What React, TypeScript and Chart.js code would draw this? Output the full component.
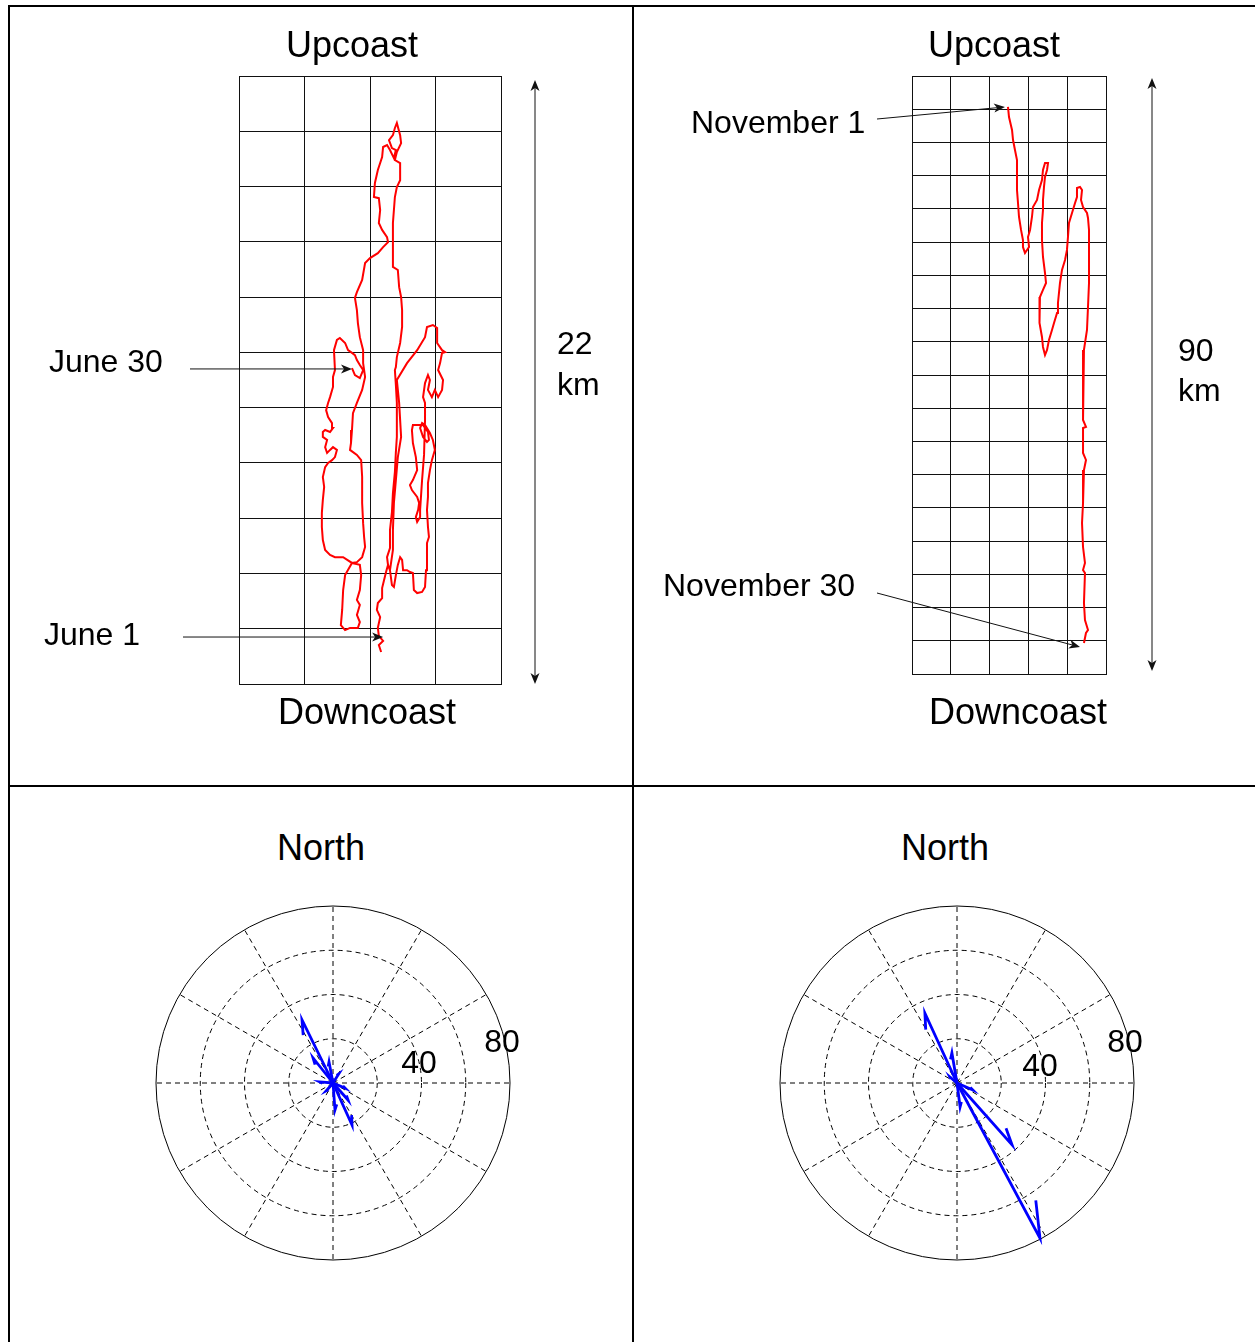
import React, { useEffect, useRef } from "react";
import { Chart, registerables } from "chart.js";

Chart.register(...registerables);

const FONT = 'Arial, "Liberation Sans", Helvetica, sans-serif';

type Pt = [number, number];

// ---------------- DATA ----------------
// June: progressive vector track, [km east, km north]
const juneTrack: Pt[] = [
  [4.34, 1.16], [4.27, 1.41], [4.40, 1.56], [4.27, 1.74], [4.24, 2.03], [4.31, 2.42], [4.21, 2.68], [4.24, 2.93],
  [4.37, 3.11], [4.37, 3.47], [4.43, 3.76], [4.49, 4.05], [4.55, 4.31],
  [4.61, 4.12], [4.67, 3.58], [4.73, 3.51], [4.79, 3.94], [4.85, 4.31], [4.92, 4.59], [4.98, 4.49], [5.01, 4.12],
  [5.13, 4.12], [5.22, 4.05], [5.31, 4.02], [5.34, 3.40], [5.44, 3.29], [5.59, 3.33], [5.68, 3.51], [5.71, 4.12],
  [5.74, 5.10], [5.80, 5.32], [5.77, 5.68], [5.74, 6.30], [5.77, 6.77], [5.77, 7.27], [5.83, 7.74], [5.89, 8.10],
  [5.98, 8.47], [5.92, 8.83], [5.83, 9.08], [5.68, 9.37], [5.59, 9.44], [5.53, 9.26], [5.62, 8.94], [5.74, 8.76],
  [5.80, 8.83], [5.77, 9.12], [5.62, 9.37], [5.31, 9.37], [5.28, 9.19], [5.31, 8.72], [5.40, 8.21], [5.44, 7.74],
  [5.31, 7.38], [5.22, 7.20], [5.28, 7.02], [5.44, 6.77], [5.50, 6.55], [5.47, 6.30], [5.40, 6.04], [5.44, 5.86],
  [5.53, 6.04], [5.53, 6.30], [5.59, 7.38], [5.65, 8.29], [5.68, 9.55], [5.68, 10.17], [5.62, 10.38], [5.68, 10.89],
  [5.77, 11.18], [5.83, 11.00], [5.77, 10.64], [5.89, 10.38], [5.98, 10.64], [6.08, 10.38], [6.20, 10.64], [6.23, 11.00],
  [6.08, 11.36], [6.14, 11.61], [6.20, 11.98], [6.29, 12.01], [6.20, 12.08], [6.05, 12.34], [6.05, 12.88], [5.92, 12.99],
  [5.74, 12.92], [5.68, 12.55], [5.44, 12.08], [5.13, 11.61], [4.82, 11.00],
  [4.89, 10.17], [4.95, 8.94], [4.85, 8.21], [4.79, 7.38], [4.73, 6.55], [4.70, 5.57], [4.70, 4.85], [4.61, 4.12],
  [4.55, 4.31], [4.52, 4.59], [4.61, 4.92], [4.61, 5.57], [4.67, 6.22], [4.70, 6.91], [4.76, 7.67], [4.79, 8.39],
  [4.82, 8.94], [4.82, 9.55], [4.82, 10.17], [4.79, 10.82], [4.76, 11.36],
  [4.79, 11.47], [4.82, 11.83], [4.92, 12.34], [4.98, 12.92], [4.98, 13.53], [4.95, 14.00], [4.89, 14.36], [4.85, 14.98],
  [4.70, 15.09], [4.70, 15.96], [4.70, 16.68], [4.73, 17.15], [4.76, 17.62], [4.82, 17.98], [4.92, 18.23], [4.92, 18.85],
  [4.76, 18.96], [4.82, 19.25], [4.95, 19.57], [4.92, 19.86], [4.82, 20.30],
  [4.76, 20.12], [4.70, 19.86], [4.58, 19.68], [4.67, 19.39], [4.79, 19.32], [4.73, 19.03], [4.61, 19.32], [4.52, 19.50],
  [4.40, 19.43], [4.37, 19.07], [4.24, 18.60], [4.15, 18.13], [4.12, 17.62], [4.27, 17.58], [4.31, 17.15], [4.27, 16.68],
  [4.37, 16.43], [4.52, 16.17], [4.55, 15.99], [4.40, 15.81], [4.24, 15.59], [4.00, 15.41], [3.85, 15.23], [3.76, 14.62],
  [3.60, 14.18], [3.54, 13.97], [3.60, 13.53], [3.63, 13.06], [3.69, 12.55], [3.79, 12.08], [3.79, 11.61], [3.85, 11.11],
  [3.76, 10.64], [3.60, 10.17], [3.48, 9.80], [3.45, 9.19], [3.42, 8.72], [3.39, 8.47], [3.60, 8.29], [3.73, 8.10],
  [3.76, 7.49], [3.76, 6.55], [3.79, 5.82], [3.82, 5.32], [3.85, 4.96], [3.76, 4.59], [3.60, 4.41], [3.45, 4.38],
  [3.24, 3.94], [3.18, 3.40], [3.15, 2.68], [3.11, 2.13], [3.24, 1.95], [3.39, 2.03], [3.63, 2.03], [3.69, 2.24],
  [3.60, 2.50], [3.69, 2.86], [3.60, 3.04], [3.69, 3.40], [3.73, 3.94], [3.69, 4.31], [3.45, 4.38], [3.18, 4.59],
  [2.93, 4.59], [2.78, 4.67], [2.63, 4.85], [2.56, 5.21], [2.53, 5.68], [2.53, 6.19], [2.56, 6.66], [2.60, 7.13],
  [2.56, 7.49], [2.63, 7.85], [2.72, 8.00], [2.84, 8.10], [2.93, 8.21], [2.99, 8.47], [2.87, 8.57], [2.78, 8.47],
  [2.69, 8.36], [2.63, 8.57], [2.69, 8.83], [2.56, 8.94], [2.56, 9.12], [2.63, 9.19], [2.78, 9.12], [2.87, 9.26],
  [2.84, 9.44], [2.72, 9.66], [2.66, 9.91], [2.72, 10.17], [2.78, 10.38], [2.87, 10.75], [2.87, 11.11], [2.93, 11.36],
  [2.90, 12.08], [2.99, 12.45], [3.08, 12.52], [3.24, 12.34], [3.33, 12.08], [3.45, 11.98], [3.54, 11.90], [3.60, 11.72],
  [3.69, 11.54], [3.79, 11.36], [3.69, 11.07], [3.54, 11.18], [3.45, 11.43],
];
const juneStartMark: Pt = [4.40, 1.70]; // "June 1"
const juneEndMark: Pt = [3.45, 11.40]; // "June 30"
const juneEastMax = 8;
const juneNorthMax = 22;
const juneGridStep = 2;

// November: progressive vector track, [km east, km north]
const novTrack: Pt[] = [
  [12.37, 85.34], [12.50, 83.83], [12.89, 81.88], [13.02, 80.37], [13.27, 78.87], [13.53, 77.36], [13.53, 74.80],
  [13.53, 72.85], [13.66, 70.89], [13.79, 68.78], [14.05, 66.83], [14.30, 65.32], [14.30, 64.27], [14.56, 63.37],
  [14.82, 63.82], [15.08, 64.27], [14.95, 65.77], [15.21, 66.83], [15.46, 68.78], [15.59, 70.29], [16.11, 71.34],
  [16.37, 72.85], [16.75, 74.35], [16.88, 75.86], [17.14, 76.91], [17.53, 76.91], [17.40, 75.86], [17.14, 74.80],
  [17.01, 73.30], [16.88, 71.34], [16.88, 69.84], [16.75, 67.88], [16.75, 65.32], [16.88, 62.76], [17.14, 60.35],
  [17.27, 58.85], [16.88, 57.80], [16.49, 56.74], [16.37, 54.79], [16.49, 52.83], [16.75, 50.72], [16.88, 49.22],
  [17.14, 48.01], [17.40, 48.77], [17.65, 50.27], [18.04, 51.78], [18.30, 52.83], [18.69, 54.33], [18.81, 55.84],
  [19.07, 58.85], [19.33, 60.81], [19.72, 62.31], [19.97, 63.82], [20.10, 65.77], [20.23, 67.88], [20.62, 69.39],
  [21.01, 70.89], [21.26, 71.79], [21.26, 73.15], [21.65, 73.30], [21.91, 72.85], [21.78, 71.34], [22.04, 70.29],
  [22.55, 69.39], [22.68, 68.63], [22.81, 66.83], [22.81, 62.76], [22.81, 58.85], [22.68, 55.24], [22.55, 51.78],
  [22.16, 48.77], [22.04, 44.70], [22.04, 40.79], [22.04, 38.23], [22.42, 37.18], [22.04, 37.03], [22.04, 33.26],
  [22.42, 32.21], [22.16, 30.70], [22.04, 25.74], [21.91, 22.73], [22.04, 19.11], [22.29, 16.71], [22.04, 15.65],
  [22.29, 15.20], [22.16, 10.69], [22.29, 8.13], [22.68, 6.62], [22.42, 6.17], [22.16, 4.67],
];
const novStartMark: Pt = [11.98, 85.34]; // "November 1"
const novEndMark: Pt = [21.65, 4.06]; // "November 30"
const novEastMax = 25;
const novNorthMax = 90;
const novGridStep = 5;

// Compass plots: vector components (east u, north v)
const juneU = [-14.0, -9.0, 8.6, 6.8, 5.4, -1.8, 0.9, -5.9, 2.5, -3.0];
const juneV = [28.5, 11.3, -19.0, -7.7, -2.3, 9.5, -12.2, 0.5, 4.0, -3.5];
const novU = [37.5, 24.9, -14.5, -2.3, 7.2, 1.4, -3.2];
const novV = [-70.1, -28.0, 31.6, 13.6, -3.2, -10.8, 2.7];
const compassRings = [20, 40, 60, 80];
const compassRingLabels = ["40", "80"];
const compassSpokeDeg = 30;

// ---------------- DRAW HELPERS ----------------
function drawArrow(ctx: CanvasRenderingContext2D, x1: number, y1: number, x2: number, y2: number) {
  const a = Math.atan2(y2 - y1, x2 - x1);
  const c = Math.cos(a), s = Math.sin(a);
  const L = 11, W = 4.5, N = 8;
  ctx.beginPath();
  ctx.moveTo(x1, y1);
  ctx.lineTo(x2 - c * N, y2 - s * N);
  ctx.stroke();
  ctx.beginPath();
  ctx.moveTo(x2, y2);
  ctx.lineTo(x2 - L * c + W * s, y2 - L * s - W * c);
  ctx.lineTo(x2 - N * c, y2 - N * s);
  ctx.lineTo(x2 - L * c - W * s, y2 - L * s + W * c);
  ctx.closePath();
  ctx.fill();
}

type Pointer = { at: Pt; tailDx: number; tailDy?: number };
type Span = { dx: number; top: number; bottom: number };

function annotationPlugin(pointers: Pointer[], span: Span) {
  return {
    id: "annot",
    afterDraw(chart: any) {
      const { ctx, chartArea: a, scales } = chart;
      const xs = scales.x, ys = scales.y;
      ctx.save();
      ctx.strokeStyle = "#111";
      ctx.fillStyle = "#111";
      ctx.lineWidth = 1;
      pointers.forEach((p) => {
        const tx = xs.getPixelForValue(p.at[0]);
        const ty = ys.getPixelForValue(p.at[1]);
        const sx = a.left + p.tailDx;
        const sy = p.tailDy === undefined ? ty : a.top + p.tailDy;
        drawArrow(ctx, sx, sy, tx, ty);
      });
      const x = a.right + span.dx;
      const mid = (a.top + a.bottom) / 2;
      drawArrow(ctx, x, mid, x, a.top + span.top);
      drawArrow(ctx, x, mid, x, a.bottom - span.bottom);
      ctx.restore();
    },
  };
}

function trackConfig(track: Pt[], xMax: number, yMax: number, step: number, padding: any, plugin: any) {
  const axis = (max: number) => ({
    type: "linear",
    min: 0,
    max,
    ticks: { display: false, stepSize: step },
    grid: { color: "#111", lineWidth: 1, drawTicks: false },
    border: { display: true, color: "#111", width: 1 },
  });
  return {
    type: "scatter",
    data: {
      datasets: [
        {
          data: track.map(([x, y]) => ({ x, y })),
          showLine: true,
          borderColor: "#ff0000",
          borderWidth: 2,
          pointRadius: 0,
          tension: 0,
          fill: false,
        },
      ],
    },
    options: {
      responsive: false,
      animation: false,
      devicePixelRatio: 1,
      events: [],
      layout: { padding },
      plugins: { legend: { display: false }, tooltip: { enabled: false } },
      scales: { x: axis(xMax), y: axis(yMax) },
    },
    plugins: [plugin],
  };
}

const polarGridPlugin = {
  id: "polarGrid",
  beforeDatasetsDraw(chart: any) {
    const { ctx, scales } = chart;
    const xs = scales.x, ys = scales.y;
    const cx = xs.getPixelForValue(0), cy = ys.getPixelForValue(0);
    const rMax = compassRings[compassRings.length - 1];
    const R = xs.getPixelForValue(rMax) - cx;
    ctx.save();
    ctx.strokeStyle = "#000";
    ctx.lineWidth = 1;
    ctx.setLineDash([5, 4]);
    compassRings.slice(0, -1).forEach((r) => {
      const rp = xs.getPixelForValue(r) - cx;
      ctx.beginPath();
      ctx.arc(cx, cy, rp, 0, Math.PI * 2);
      ctx.stroke();
    });
    for (let d = 0; d < 360; d += compassSpokeDeg) {
      const t = (d * Math.PI) / 180;
      ctx.beginPath();
      ctx.moveTo(cx, cy);
      ctx.lineTo(cx + R * Math.cos(t), cy - R * Math.sin(t));
      ctx.stroke();
    }
    ctx.setLineDash([]);
    ctx.beginPath();
    ctx.arc(cx, cy, R, 0, Math.PI * 2);
    ctx.stroke();
    ctx.restore();
  },
};

function compassConfig(us: number[], vs: number[]) {
  const rMax = compassRings[compassRings.length - 1];
  const datasets = us.map((u, i) => {
    const v = vs[i];
    return {
      data: [
        { x: 0, y: 0 },
        { x: u, y: v },
        { x: 0.8 * u - 0.08 * v, y: 0.8 * v + 0.08 * u },
      ],
      showLine: true,
      borderColor: "#0000ff",
      borderWidth: 2.8,
      pointRadius: 0,
      tension: 0,
      fill: false,
    };
  });
  return {
    type: "scatter",
    data: { datasets },
    options: {
      responsive: false,
      animation: false,
      devicePixelRatio: 1,
      events: [],
      layout: { padding: 4 },
      plugins: { legend: { display: false }, tooltip: { enabled: false } },
      scales: {
        x: { type: "linear", min: -rMax, max: rMax, display: false },
        y: { type: "linear", min: -rMax, max: rMax, display: false },
      },
    },
    plugins: [polarGridPlugin],
  };
}

// ---------------- COMPONENTS ----------------
function ChartCanvas({ left, top, width, height, makeConfig }: any) {
  const ref = useRef<HTMLCanvasElement>(null);
  useEffect(() => {
    const chart = new Chart(ref.current as HTMLCanvasElement, makeConfig());
    return () => chart.destroy();
  }, []);
  return (
    <canvas
      ref={ref}
      width={width}
      height={height}
      style={{ position: "absolute", left, top, width, height }}
    />
  );
}

function Label({ text, x, y, size = 32, center = false }: any) {
  return (
    <div
      style={{
        position: "absolute",
        left: x,
        top: y,
        transform: center ? "translate(-50%, -50%)" : "translateY(-50%)",
        fontSize: size,
        lineHeight: 1,
        whiteSpace: "nowrap",
        color: "#000",
        fontFamily: FONT,
      }}
    >
      {text}
    </div>
  );
}

const line = (left: number, top: number, width: number, height: number) => (
  <div style={{ position: "absolute", left, top, width, height, background: "#000" }} />
);

export default function App() {
  return (
    <div
      style={{
        position: "absolute",
        left: 0,
        top: 0,
        width: 1255,
        height: 1342,
        overflow: "hidden",
        background: "#fff",
        fontFamily: FONT,
      }}
    >
      {line(8, 5, 2, 1337)}
      {line(8, 5, 1247, 2)}
      {line(632, 5, 2, 1337)}
      {line(8, 785, 1247, 2)}

      <ChartCanvas
        left={10}
        top={7}
        width={622}
        height={778}
        makeConfig={() =>
          trackConfig(
            juneTrack,
            juneEastMax,
            juneNorthMax,
            juneGridStep,
            { left: 229, right: 131, top: 69, bottom: 101 },
            annotationPlugin(
              [
                { at: juneEndMark, tailDx: -49 },
                { at: juneStartMark, tailDx: -56 },
              ],
              { dx: 34, top: 4, bottom: 0 }
            )
          )
        }
      />
      <ChartCanvas
        left={634}
        top={7}
        width={621}
        height={778}
        makeConfig={() =>
          trackConfig(
            novTrack,
            novEastMax,
            novNorthMax,
            novGridStep,
            { left: 278, right: 149, top: 69, bottom: 111 },
            annotationPlugin(
              [
                { at: novStartMark, tailDx: -35, tailDy: 43 },
                { at: novEndMark, tailDx: -35, tailDy: 517 },
              ],
              { dx: 46, top: 2, bottom: 3 }
            )
          )
        }
      />
      <ChartCanvas left={152} top={902} width={362} height={362} makeConfig={() => compassConfig(juneU, juneV)} />
      <ChartCanvas left={776} top={902} width={362} height={362} makeConfig={() => compassConfig(novU, novV)} />

      <Label text="Upcoast" x={352} y={45} size={36} center />
      <Label text="Downcoast" x={367} y={712} size={36} center />
      <Label text="June 30" x={49} y={361} />
      <Label text="June 1" x={44} y={634} />
      <Label text="22" x={557} y={343} />
      <Label text="km" x={557} y={384} />

      <Label text="Upcoast" x={994} y={45} size={36} center />
      <Label text="Downcoast" x={1018} y={712} size={36} center />
      <Label text="November 1" x={691} y={122} />
      <Label text="November 30" x={663} y={585} />
      <Label text="90" x={1178} y={350} />
      <Label text="km" x={1178} y={390} />

      <Label text="North" x={321} y={848} size={36} center />
      <Label text="North" x={945} y={848} size={36} center />
      <Label text={compassRingLabels[0]} x={419} y={1062} center />
      <Label text={compassRingLabels[1]} x={502} y={1041} center />
      <Label text={compassRingLabels[0]} x={1040} y={1065} center />
      <Label text={compassRingLabels[1]} x={1125} y={1041} center />
    </div>
  );
}
